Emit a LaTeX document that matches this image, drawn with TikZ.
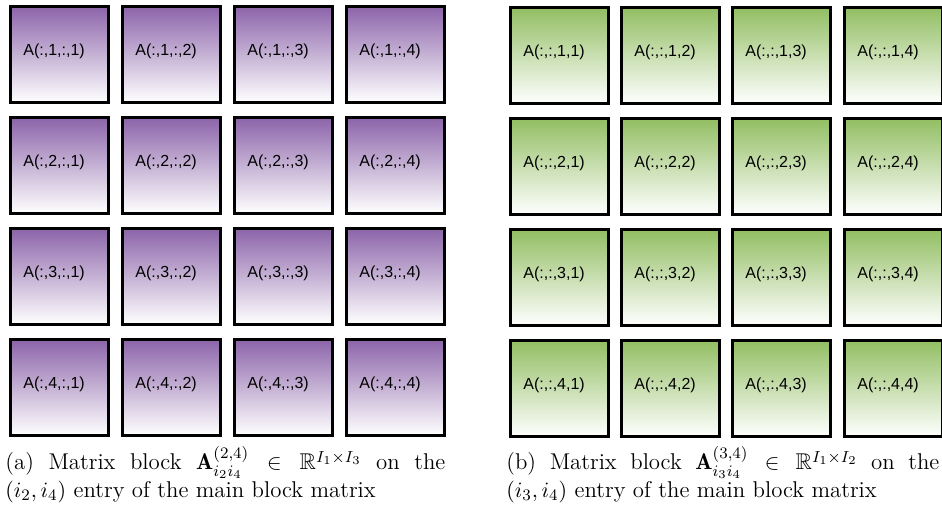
\documentclass[tikz,border=0pt]{standalone}
\usepackage{amsmath}
\usepackage{amssymb}
\usepackage{fontspec}
\newfontfamily\arialfont{Liberation Sans}
\usepackage{tikz}
\definecolor{blockpurple}{RGB}{140, 100, 170}
\definecolor{blockgreen}{RGB}{146, 190, 98}

\begin{document}
\begin{tikzpicture}[x=0.5pt, y=-0.5pt,
    blk/.style={draw, line width=1.4pt, anchor=north west, minimum height=48pt,
      text width=36pt, inner xsep=6.5pt, align=left, text height=6pt, text depth=4.6pt,
      font=\arialfont\fontsize{8}{9}\selectfont, top color=#1, bottom color=white},
    captext/.style={anchor=north west, inner sep=0pt, text width=220pt, align=justify,
      font=\fontsize{11.4}{11.6}\selectfont}]
  \useasboundingbox (0,0) rectangle (942,514);
  % (a) slices A(:,i2,:,i4), (b) slices A(:,:,i3,i4)
  \foreach \r/\y in {1/5, 2/116, 3/227, 4/338} {
    \foreach \c/\x in {1/9, 2/121, 3/233, 4/345}
      \node[blk=blockpurple] (a\r\c) at (\x,\y) {A(:,\r,:,\c)};
    \foreach \c/\x in {1/509, 2/620, 3/731, 4/843}
      \node[blk=blockgreen] (b\r\c) at (\x,\y+1) {A(:,:,\r,\c)};
  }
  \node[captext] (capa) at (5,446) {(a) Matrix block $\mathbf{A}^{(2,4)}_{i_2 i_4} \in \mathbb{R}^{I_1\times I_3}$ on the\linebreak $(i_2,i_4)$ entry of the main block matrix};
  \node[captext, text width=216.5pt] (capb) at (506,446) {(b) Matrix block $\mathbf{A}^{(3,4)}_{i_3 i_4} \in \mathbb{R}^{I_1\times I_2}$ on the\linebreak $(i_3,i_4)$ entry of the main block matrix};
\end{tikzpicture}
\end{document}
